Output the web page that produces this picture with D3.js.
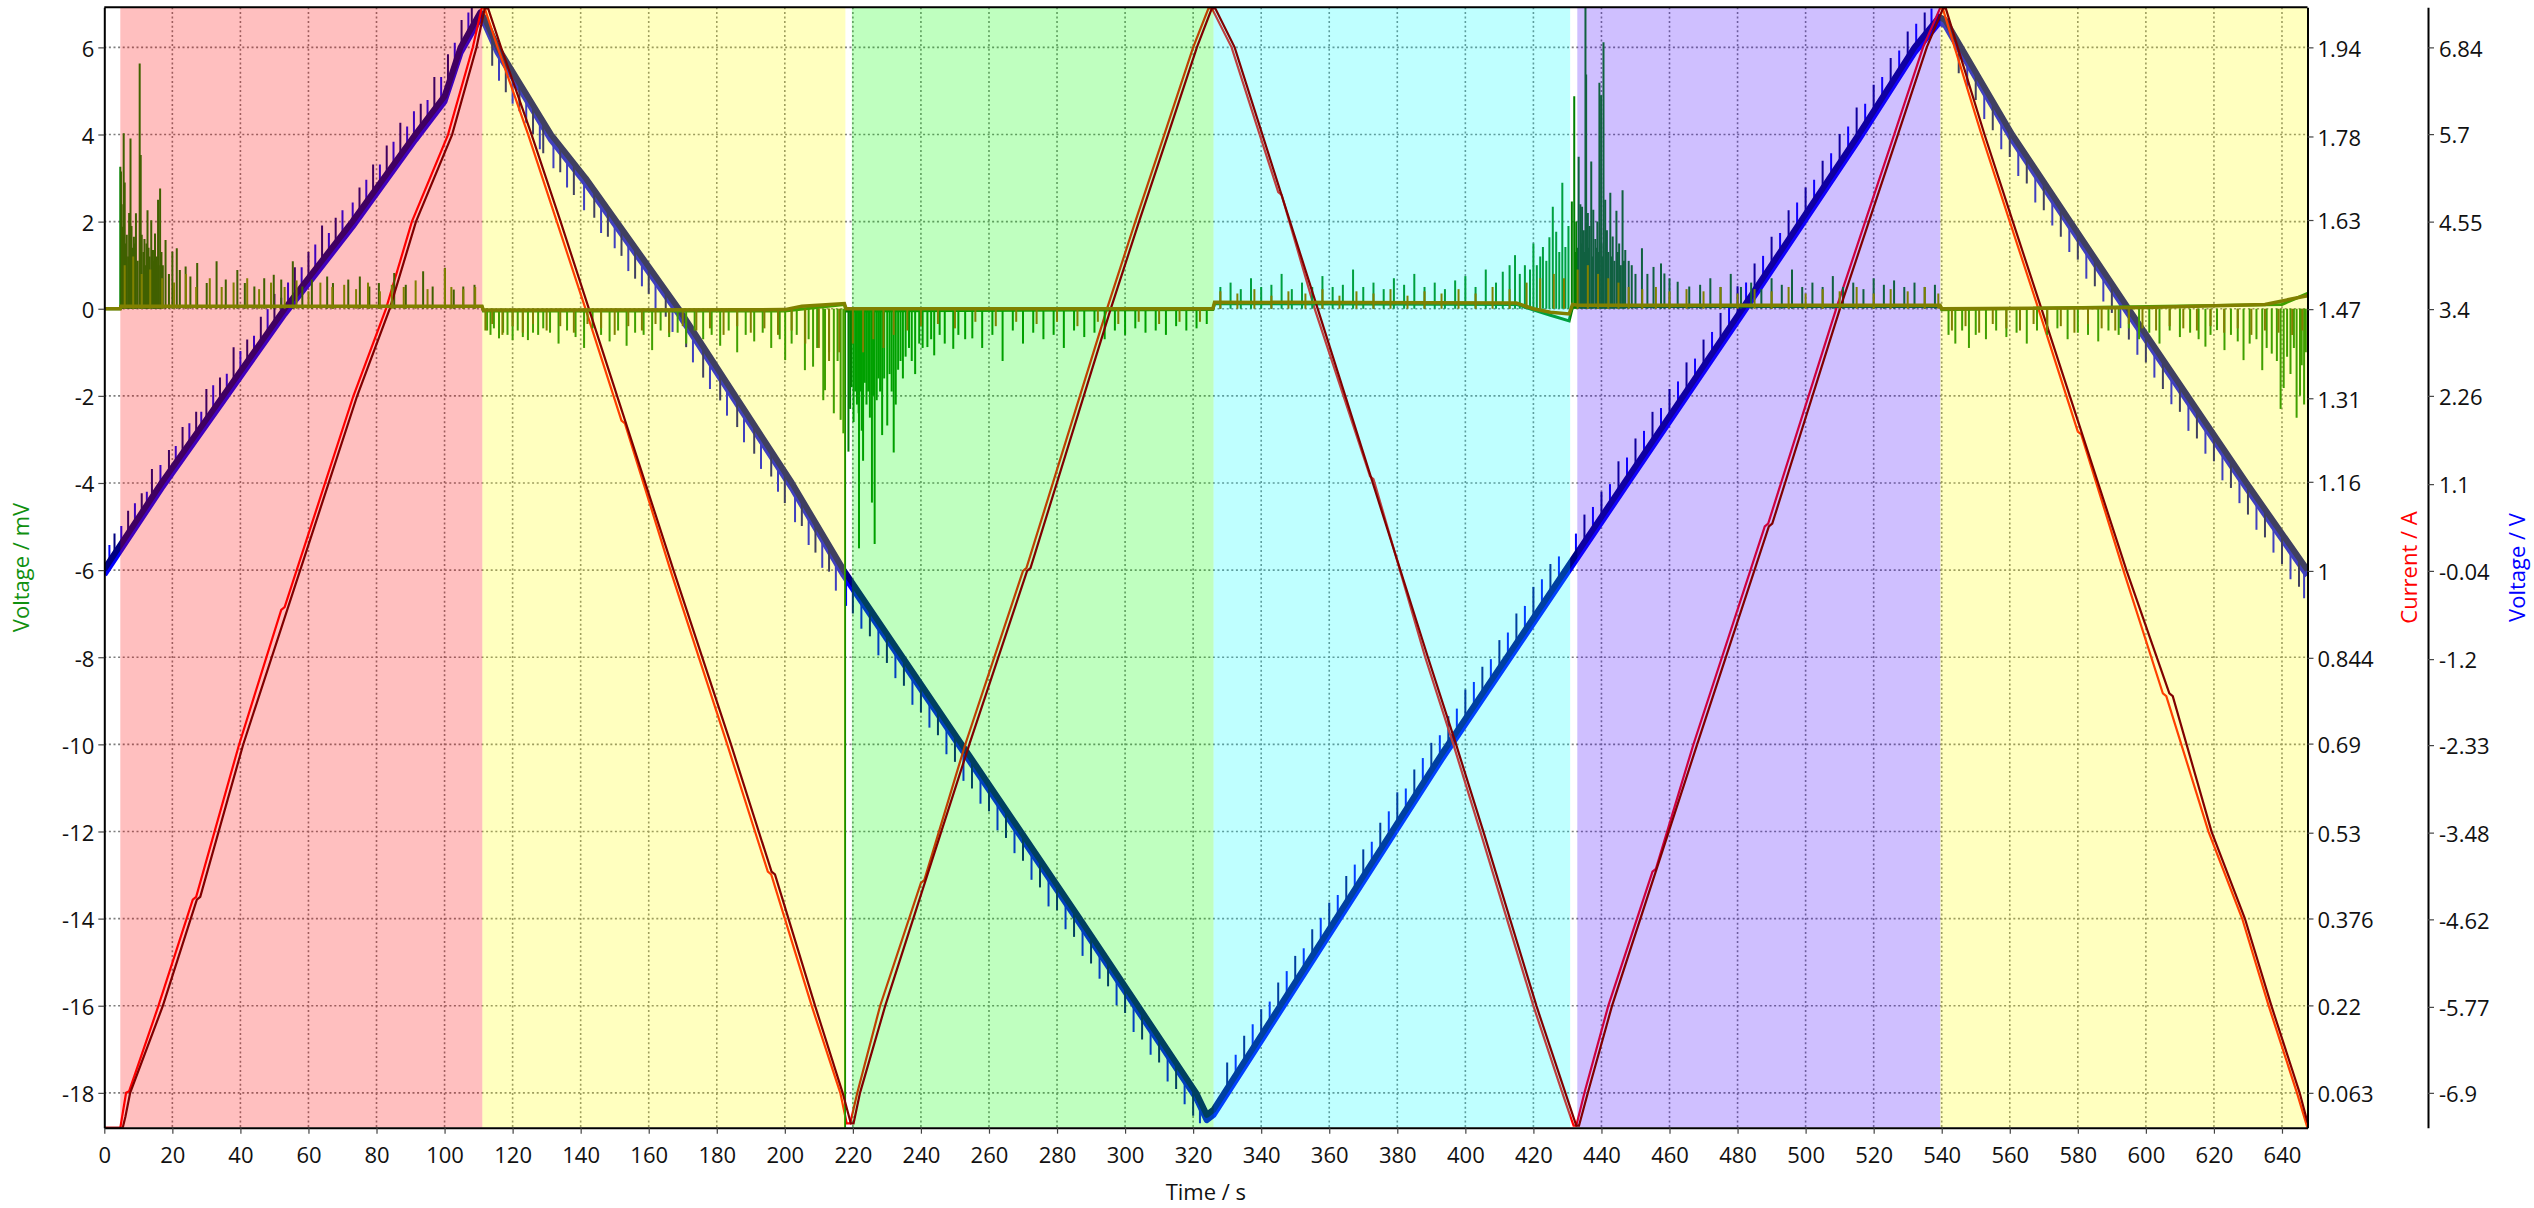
<!DOCTYPE html>
<html><head><meta charset="utf-8">
<script src="https://cdn.jsdelivr.net/npm/d3@7"></script>
<style>html,body{margin:0;padding:0;background:#fff;} text{font-family:"Open Sans","Noto Sans",sans-serif;}</style>
</head><body><svg id="chart" width="2534" height="1208"></svg>
<script>
// ---------- tick labels ----------
const timeTicks = [0,20,40,60,80,100,120,140,160,180,200,220,240,260,280,300,320,340,360,380,400,420,440,460,480,500,520,540,560,580,600,620,640];
const mvTicks = [6,4,2,0,-2,-4,-6,-8,-10,-12,-14,-16,-18];
const currentTicks = [1.94,1.78,1.63,1.47,1.31,1.16,1,0.844,0.69,0.53,0.376,0.22,0.063];
const voltTicks = [6.84,5.7,4.55,3.4,2.26,1.1,-0.04,-1.2,-2.33,-3.48,-4.62,-5.77,-6.9];

// ---------- phase bands ----------
const bandStarts = [4.7, 111.1, 219.7, 326.0, 432.9, 539.6];
const bandEnds   = [111.1, 217.8, 326.0, 430.8, 539.6, 647.5];
const bandColors = ["#ff0000","#ffff00","#00ff00","#00ffff","#4000ff","#ffff00"];

// ---------- Current / A (two channels) ----------
const currentRed = [[0,0],[4.7,0],[6.4,0.063],[7.3,0.066],[15.9,0.219],[26,0.41],[27,0.415],[39.6,0.688],[52,0.93],[53,0.935],[73.2,1.314],[82.8,1.471],[90.4,1.627],[101,1.783],[108.3,1.94],[110.9,2.01],
 [111.8,2.01],[115.6,1.94],[124.6,1.783],[133,1.627],[141.4,1.471],[152,1.27],[153,1.265],[166.4,1.001],[183.1,0.688],[195,0.46],[196,0.455],[207.9,0.219],[216.3,0.063],[218.2,0.008],
 [219.2,0.008],[221.3,0.063],[228,0.219],[240,0.44],[241,0.445],[253,0.688],[270,1.0],[271,1.005],[294.7,1.471],[303,1.627],[311.5,1.783],[320,1.94],[324.5,2.01],
 [325.5,2.01],[331.3,1.94],[345,1.68],[346,1.675],[355.7,1.471],[372,1.17],[373,1.165],[388.2,0.845],[396.5,0.688],[404.4,0.532],[420,0.219],[428.5,0.063],[431.8,0.004],
 [432.6,0.004],[435,0.063],[442,0.219],[455,0.46],[456,0.465],[467,0.688],[488,1.08],[489,1.085],[509,1.471],[517.5,1.627],[526,1.783],[534.5,1.94],[539.5,2.01],
 [540.3,2.01],[543.8,1.94],[551.7,1.783],[560,1.627],[568.4,1.471],[580,1.25],[581,1.245],[593.4,1.001],[605,0.78],[606,0.775],[618.4,0.532],[628.3,0.376],[636.1,0.219],[644.4,0.063],[647.5,0.0]];
const currentDark = [[0,0],[5.4,0],[6.2,0.02],[7.6,0.063],[17.2,0.219],[27.2,0.41],[28.2,0.415],[40.8,0.688],[74.3,1.314],[83.9,1.471],[91.6,1.627],[102.2,1.783],[109.4,1.94],[111.8,2.01],
 [112.8,2.01],[116.6,1.94],[125.6,1.783],[134.1,1.627],[142.4,1.471],[167.3,1.001],[184.2,0.688],[196.1,0.46],[197.1,0.455],[208.9,0.219],[217,0.063],[219.4,0.008],
 [220.2,0.008],[222.1,0.063],[229.5,0.219],[254.2,0.688],[271.2,1.0],[272.2,1.005],[295.8,1.471],[304.1,1.627],[312.6,1.783],[321.1,1.94],[325.5,2.01],
 [326.5,2.01],[332.2,1.94],[356.6,1.471],[389,0.845],[397.3,0.688],[405.3,0.532],[420.9,0.219],[429.4,0.063],[432.6,0.004],
 [433.4,0.004],[436,0.063],[443.1,0.219],[468.1,0.688],[489.2,1.08],[490.2,1.085],[510.1,1.471],[518.6,1.627],[527.1,1.783],[535.6,1.94],[540.4,2.01],
 [541.2,2.01],[544.7,1.94],[552.6,1.783],[560.9,1.627],[569.3,1.471],[594.3,1.001],[606.9,0.78],[607.9,0.775],[619.3,0.532],[629.1,0.376],[636.9,0.219],[645.2,0.063],[647.5,0.01]];

// ---------- Voltage / V (two channels) ----------
const voltNavy = [[0,-0.02],[16.8,1.115],[34.9,2.26],[53,3.405],[72.9,4.55],[91.4,5.695],[100,6.2],[104.7,6.84],[110.5,7.3],
 [112,7.2],[115.6,6.84],[131.3,5.695],[141.5,5.12],[168.8,3.405],[202.1,1.115],[217.3,-0.03],[252,-2.32],[286.7,-4.61],[320.9,-6.9],[324,-7.19],
 [326,-7.12],[393,-2.45],[430.5,0.04],[446.7,1.115],[481.4,3.405],[515.6,5.695],[532,6.84],[539.3,7.24],
 [541,7.2],[560.7,5.695],[577.8,4.55],[594.9,3.405],[629.6,1.115],[647.5,-0.03]];
const voltBlue = [[0,-0.09],[16.8,1.045],[34.9,2.19],[53,3.335],[72.9,4.48],[91.4,5.625],[100,6.13],[104.7,6.77],[110.5,7.23],
 [112,7.13],[115.6,6.77],[131.3,5.625],[141.5,5.05],[168.8,3.335],[202.1,1.045],[217.3,-0.1],[252,-2.39],[286.7,-4.68],[320.9,-6.97],[324,-7.26],
 [326,-7.19],[393,-2.52],[430.5,-0.03],[446.7,1.045],[481.4,3.335],[515.6,5.625],[532,6.77],[539.3,7.17],
 [541,7.13],[560.7,5.625],[577.8,4.48],[594.9,3.335],[629.6,1.045],[647.5,-0.1]];
// noise excursions [t, from V, to V]
const voltNavySpikes = [[3,0.18,0.45],[7,0.45,0.75],[11,0.72,0.98],[14,0.93,1.3],[19,1.25,1.55],[23,1.51,1.85],[27,1.76,2.05],[30,1.95,2.35],[34,2.2,2.5],[38,2.46,2.9],[42,2.71,3.0],[46,2.96,3.3],[50,3.22,3.6],
 [56,3.58,3.95],[60,3.81,4.15],[64,4.04,4.5],[68,4.27,4.6],[75,4.68,5.0],[79,4.93,5.3],[83,5.18,5.55],[87,5.42,5.85],[93,5.79,6.1],[97,6.02,6.45],[101,6.34,6.75],[105,6.86,7.2],[108,7.1,7.37],
 [114,6.99,6.6],[118,6.66,6.25],[122,6.37,6.0],[126,6.08,5.7],[129,5.86,5.45],[134,5.55,5.2],[138,5.32,4.9],[144,4.96,4.6],[148,4.71,4.35],[152,4.46,4.1],[156,4.21,3.8],[160,3.96,3.6],
 [165,3.64,3.3],[171,3.25,2.9],[176,2.91,2.5],[181,2.56,2.2],[186,2.22,1.85],[191,1.88,1.5],[196,1.54,1.2],[200,1.26,0.85],[205,0.91,0.55],[209,0.6,0.2],[213,0.3,-0.05],
 [220,-0.21,-0.6],[225,-0.54,-0.9],[230,-0.87,-1.25],[235,-1.2,-1.55],[240,-1.53,-1.9],[245,-1.86,-2.2],[250,-2.19,-2.55],[255,-2.52,-2.9],[260,-2.85,-3.2],[265,-3.18,-3.55],
 [270,-3.51,-3.85],[275,-3.84,-4.2],[280,-4.17,-4.5],[285,-4.5,-4.85],[290,-4.83,-5.2],[295,-5.16,-5.5],[300,-5.49,-5.85],[305,-5.83,-6.2],[310,-6.17,-6.5],[315,-6.5,-6.85],[320,-6.84,-7.2],
 [330,-6.84,-6.5],[335,-6.49,-6.15],[340,-6.14,-5.8],[345,-5.8,-5.45],[350,-5.45,-5.1],[355,-5.1,-4.75],[360,-4.75,-4.4],[365,-4.4,-4.05],[370,-4.05,-3.7],[375,-3.7,-3.35],
 [380,-3.36,-2.95],[385,-3.01,-2.65],[390,-2.66,-2.3],[395,-2.32,-1.95],[400,-1.99,-1.6],[405,-1.65,-1.3],[410,-1.32,-0.95],[415,-0.99,-0.6],[420,-0.66,-0.25],[425,-0.33,0.05],
 [435,0.32,0.7],[440,0.67,1.0],[445,1.0,1.4],[450,1.33,1.7],[455,1.66,2.05],[460,1.99,2.35],[465,2.32,2.7],[470,2.65,3.0],[475,2.98,3.35],[480,3.31,3.7],[485,3.64,4.0],
 [490,3.98,4.35],[495,4.31,4.7],[500,4.65,5.0],[505,4.98,5.35],[510,5.32,5.7],[515,5.65,6.05],[520,5.98,6.35],[525,6.35,6.7],[530,6.7,7.05],[535,7.0,7.3],
 [545,6.89,6.5],[550,6.51,6.15],[555,6.13,5.75],[560,5.75,5.4],[565,5.41,5.05],[570,5.07,4.7],[575,4.74,4.35],[580,4.4,4.05],[585,4.07,3.7],[590,3.73,3.35],
 [595,3.4,3.0],[600,3.07,2.7],[605,2.74,2.35],[610,2.41,2.05],[615,2.08,1.7],[620,1.75,1.4],[625,1.42,1.05],[630,1.09,0.7],[635,0.77,0.4],[640,0.45,0.05],[645,0.13,-0.25]];
const voltBlueSpikes = [[1.5,0.01,0.3],[5,0.25,0.55],[9,0.52,0.85],[12.5,0.75,1.0],[16.5,1.02,1.35],[21,1.31,1.6],[25,1.56,1.9],[28.5,1.79,2.05],[32,2.0,2.4],[36,2.26,2.55],[40,2.51,2.85],[44,2.77,3.05],
 [48,3.02,3.4],[52,3.27,3.55],[54,3.39,3.75],[58,3.62,3.95],[62,3.85,4.25],[66,4.08,4.4],[70,4.31,4.7],[73,4.49,4.8],[77,4.73,5.1],[81,4.98,5.3],[85,5.23,5.6],[89,5.48,5.8],[91,5.6,6.0],
 [95,5.84,6.15],[99,6.07,6.45],[103,6.54,6.9],[107,6.95,7.3],
 [116,6.74,6.4],[120,6.45,6.1],[124,6.16,5.85],[128,5.87,5.5],[132,5.58,5.25],[136,5.36,5.0],[141,5.08,4.7],[146,4.77,4.4],[150,4.52,4.2],[154,4.27,3.9],[158,4.01,3.7],[162,3.76,3.4],
 [167,3.45,3.1],[173,3.05,2.7],[178,2.7,2.35],[183,2.36,2.0],[188,2.01,1.65],[193,1.67,1.3],[198,1.33,1.0],[203,0.98,0.6],[207,0.68,0.3],[211,0.38,0.0],[215,0.07,-0.3],[218,-0.15,-0.5],
 [222.5,-0.44,-0.8],[227.5,-0.77,-1.15],[232.5,-1.1,-1.45],[237.5,-1.43,-1.8],[242.5,-1.76,-2.1],[247.5,-2.09,-2.45],[252.5,-2.42,-2.8],[257.5,-2.75,-3.1],[262.5,-3.08,-3.45],[267.5,-3.41,-3.75],
 [272.5,-3.74,-4.1],[277.5,-4.07,-4.45],[282.5,-4.4,-4.75],[287.5,-4.73,-5.1],[292.5,-5.06,-5.4],[297.5,-5.39,-5.75],[302.5,-5.72,-6.1],[307.5,-6.05,-6.4],[312.5,-6.38,-6.75],[317.5,-6.71,-7.05],[322,-7.04,-7.3],
 [332.5,-6.74,-6.4],[337.5,-6.39,-6.0],[342.5,-6.04,-5.7],[347.5,-5.69,-5.3],[352.5,-5.34,-5.0],[357.5,-4.99,-4.6],[362.5,-4.64,-4.3],[367.5,-4.29,-3.9],[372.5,-3.94,-3.6],[377.5,-3.59,-3.2],
 [382.5,-3.24,-2.9],[387.5,-2.9,-2.5],[392.5,-2.55,-2.2],[397.5,-2.22,-1.85],[402.5,-1.89,-1.5],[407.5,-1.56,-1.2],[412.5,-1.23,-0.85],[417.5,-0.9,-0.5],[422.5,-0.53,-0.15],[427.5,-0.2,0.15],
 [432.5,0.1,0.45],[437.5,0.43,0.8],[442.5,0.76,1.1],[447.5,1.1,1.45],[452.5,1.43,1.8],[457.5,1.76,2.1],[462.5,2.09,2.45],[467.5,2.42,2.75],[472.5,2.75,3.1],[477.5,3.08,3.45],[482.5,3.41,3.75],
 [487.5,3.74,4.1],[492.5,4.08,4.4],[497.5,4.41,4.8],[502.5,4.74,5.1],[507.5,5.08,5.45],[512.5,5.42,5.8],[517.5,5.76,6.1],[522.5,6.11,6.45],[527.5,6.46,6.8],[532.5,6.8,7.15],[537,7.05,7.35],
 [547.5,6.63,6.3],[552.5,6.25,5.9],[557.5,5.87,5.5],[562.5,5.5,5.15],[567.5,5.17,4.8],[572.5,4.83,4.5],[577.5,4.5,4.15],[582.5,4.17,3.8],[587.5,3.83,3.5],[592.5,3.5,3.15],[597.5,3.16,2.8],
 [602.5,2.83,2.5],[607.5,2.5,2.15],[612.5,2.17,1.8],[617.5,1.84,1.5],[622.5,1.51,1.15],[627.5,1.18,0.85],[632.5,0.86,0.5],[637.5,0.54,0.2],[642.5,0.22,-0.15],[646.5,-0.04,-0.4]];

// ---------- Voltage / mV (two channels) ----------
const mvGreenBase = [[0,0],[4.6,0],[4.8,0.05],[111,0.05],[111.4,-0.05],[200,-0.05],[217.5,0.1],[218,-0.05],[325.8,-0.02],[326.3,0.12],[415,0.1],[425,-0.15],[430.5,-0.28],[431.5,0.05],[539.5,0.05],[540,-0.02],[640,0.1],[647.5,0.35]];
const mvOliveBase = [[0,0],[4.7,0],[4.9,0.06],[111,0.06],[111.4,-0.03],[200,-0.02],[205,0.06],[217.5,0.12],[218,0],[325.8,0],[326.3,0.15],[415,0.13],[420,0.0],[425,-0.08],[430.5,-0.12],[431.5,0.1],[433,0.08],[539.5,0.08],[540,0],[600,0.03],[635,0.1],[647.5,0.3]];
const mvGreenSpikes = [[4.7,3.26],[4.9,3.15],[5.1,2.4],[5.3,1.88],[5.7,4.03],[6.0,2.9],[6.3,1.5],[6.6,1.7],[7.0,1.2],[7.3,2.2],[7.7,3.91],[8.0,1.9],[8.2,1.4],[8.7,1.65],[9.0,1.5],[9.3,2.19],[9.8,1.1],[10.4,5.63],[10.7,3.53],
 [11.0,1.7],[11.5,1.3],[11.8,1.6],[12.1,1.0],[12.4,1.5],[12.7,2.26],[13.0,1.4],[13.3,1.2],[13.8,2.03],[14.3,1.35],[14.6,1.1],[14.9,1.73],[15.4,1.2],[15.8,2.5],[16.0,1.0],[16.4,2.76],[16.8,1.3],[17.2,1.0],[18.0,1.58],
 [19,0.8],[20,1.31],[21.3,1.39],[22.2,0.89],[23.9,0.97],[25.3,0.74],[27.3,1.05],[30.1,0.59],[33,1.09],[35.7,0.67],[39.1,0.89],[41.3,0.59],[44.1,0.51],[47,0.7],[49.8,0.78],[52,0.67],[55.4,1.09],[58.2,0.51],
 [61,0.67],[65.5,0.74],[67.2,0.59],[71.7,0.67],[75.1,0.74],[77.9,0.51],[80.7,0.59],[85.2,0.82],[88.6,0.55],[93.7,0.86],[96.5,0.51],[100.1,0.94],[102.7,0.44],[105.5,0.51],[108.8,0.55],
 [112.5,-0.5],[113.5,-0.6],[114.5,-0.45],[116,-0.68],[117.2,-0.55],[118.5,-0.6],[120,-0.72],[121.5,-0.5],[123,-0.65],[124.5,-0.72],[126,-0.55],[127.5,-0.6],[129,-0.45],
 [131,-0.55],[133.5,-0.8],[136,-0.5],[138.5,-0.65],[141,-0.9],[143.5,-0.45],[146,-0.6],[148.5,-0.75],[151,-0.5],[153.5,-0.85],[156,-0.55],[158.5,-0.6],[161,-0.95],[163.5,-0.5],[166,-0.65],
 [168.5,-0.55],[171,-0.8],[173.5,-0.5],[176,-0.7],[178.5,-0.6],[181,-0.85],[183.5,-0.5],[186,-1.0],[188.5,-0.6],[191,-0.75],[193.5,-0.55],[196,-0.9],[198.5,-0.7],
 [200.1,-1.18],[202,-0.8],[203.5,-0.6],[205.9,-1.41],[207,-0.7],[208.3,-1.33],[209.5,-0.9],[211.3,-2.1],[211.8,-1.87],[213,-1.0],[214.4,-2.4],[215.5,-1.2],[216.4,-2.55],[217.2,-2.86],[217.7,-18.8],
 [218.7,-3.28],[219.2,-2.3],[219.6,-1.8],[220.2,-2.6],[220.7,-1.9],[221.2,-2.2],[221.7,-2.4],[221.8,-5.5],[222.3,-1.9],[222.6,-2.8],[223,-3.49],[223.5,-1.7],[224,-2.2],[224.5,-1.9],[225,-2.5],
 [225.6,-4.45],[226,-2.0],[226.4,-5.4],[227,-2.1],[227.5,-1.6],[228,-1.9],[228.6,-2.9],[229.2,-1.6],[230.1,-2.68],[230.8,-1.5],[231.4,-1.9],[232,-3.3],[232.6,-2.2],[233.3,-1.4],[234,-1.2],
 [234.7,-1.6],[235.5,-1.1],[236.5,-0.9],[237.3,-1.2],[238.3,-1.5],[239.5,-0.8],[240.5,-0.9],[241.9,-0.88],[243,-0.7],[243.9,-1.07],[245.5,-0.6],[247,-0.8],[249.5,-0.92],[251,-0.6],[253,-0.7],
 [255.1,-0.68],[258,-0.9],[261,-0.6],[264,-1.2],[267,-0.5],[270,-0.8],[273,-0.55],[276,-0.7],[279,-0.6],[282,-0.9],[285,-0.5],[288,-0.65],[291,-0.55],[294,-0.7],[297,-0.5],[300,-0.6],
 [303,-0.45],[306,-0.55],[309,-0.5],[312,-0.6],[315,-0.4],[318,-0.5],[321,-0.45],[324,-0.35],
 [328,0.5],[331,0.6],[334,0.45],[337,0.7],[340,0.5],[343,0.55],[346,0.8],[349,0.45],[352,0.6],[355,0.5],[358,0.75],[361,0.5],[364,0.55],[367,0.9],[370,0.5],[373,0.6],[376,0.45],[379,0.7],
 [382,0.55],[385,0.8],[388,0.5],[391,0.6],[394,0.45],[397,0.65],[400,0.75],[403,0.5],[406,0.9],[409,0.6],[411,0.85],[413,1.0],[414.6,1.23],[416,0.8],[417.5,1.0],[419,0.9],[420,1.5],[421,1.0],
 [422,1.2],[422.8,1.42],[423.8,1.1],[424.7,1.64],[425.7,2.34],[426.7,1.77],[427.6,1.3],[428.5,2.89],[429.4,1.42],[430.3,1.9],
 [431.3,2.46],[432,4.88],[432.3,1.3],[432.6,2.0],[433,1.4],[433.3,3.49],[433.8,2.4],[434,1.5],[434.3,2.34],[434.8,1.8],[435,1.3],[435.3,6.92],[435.5,5.38],[436,2.2],[436.2,1.4],[436.5,1.9],
 [437,3.38],[437.3,1.2],[437.6,2.27],[438.2,1.6],[438.5,1.4],[438.8,2.0],[439,1.3],[439.4,5.19],[439.9,4.9],[440,1.5],[440.3,1.2],[440.6,6.12],[441.1,2.5],[441.3,1.4],[441.6,1.8],[442,1.3],
 [442.6,2.66],[443,1.2],[443.3,1.66],[443.8,1.1],[444.4,2.25],[444.8,1.3],[445.2,1.5],[445.7,1.0],[446.2,2.72],[446.6,1.1],[447,1.35],[448,1.1],[448.9,1.0],[450,0.8],[451.9,1.39],[453.5,0.8],
 [455.3,0.96],[457.5,1.04],[458.5,0.81],[460,0.7],[462.4,0.62],[465.8,0.51],
 [469,0.55],[472,0.7],[475,0.5],[478,0.8],[481,0.5],[484,0.6],[487,0.45],[490,0.7],[493,0.55],[496,0.9],[499,0.5],[502,0.6],[505,0.5],[508,0.75],[511,0.5],[514,0.6],[517,0.45],[520,0.7],
 [523,0.55],[526,0.65],[529,0.5],[532,0.6],[535,0.5],[538,0.55],
 [542,-0.6],[544,-0.8],[546,-0.5],[548,-0.9],[550,-0.6],[553,-0.7],[556,-0.5],[559,-0.65],[562,-0.55],[565,-0.8],[568,-0.5],[571,-0.6],[574,-0.45],[577,-0.7],[580,-0.55],[583,-0.6],[586,-0.75],
 [589,-0.5],[592,-0.6],[595,-0.45],[598,-0.7],[601,-0.55],[604,-0.8],[607,-0.5],[610,-0.65],[613,-0.55],[615.5,-0.7],[617.5,-0.87],[619,-0.6],[620.9,-0.49],[623.1,-0.95],[625,-0.6],[627,-0.75],
 [628.7,-1.18],[630.5,-0.8],[632.5,-0.7],[634.2,-1.41],[635.5,-0.9],[637,-1.03],[638.5,-1.2],[639.6,-2.3],[640.5,-1.82],[641.5,-1.1],[642.5,-1.5],[643.5,-0.9],[644.3,-2.5],[645.3,-2.0],[645.8,-1.3],[646.5,-2.2],[647,-1.0]];
const mvOliveSpikes = [[6,1.0],[8.5,1.2],[11,0.8],[13.5,0.9],[17,0.7],[20.5,0.6],[24,0.8],[27,0.5],[31,0.7],[34.5,0.5],[38,0.6],[42,0.7],[45.5,0.45],[49,0.6],[53,0.5],[56.5,0.65],[60,0.4],[63.5,0.6],
 [67,0.5],[70.5,0.55],[74,0.45],[77.5,0.6],[81,0.4],[84.5,0.55],[88,0.5],[91.5,0.65],[95,0.45],[100.1,0.93],[102,0.5],[105.5,0.45],[109,0.5],
 [112,-0.5],[114,-0.35],[117,-0.6],[120,-0.4],[123,-0.55],[126,-0.35],[130,-0.5],[134,-0.4],[138,-0.55],[142,-0.35],[146,-0.45],[150,-0.6],[154,-0.4],[158,-0.5],[162,-0.35],[166,-0.55],
 [170,-0.4],[174,-0.5],[178,-0.45],[182,-0.6],[186,-0.4],[190,-0.55],[194,-0.45],[198,-0.6],[202,-0.5],[206,-0.8],[210,-0.9],[213,-1.2],[216,-1.0],
 [220,-0.8],[223,-1.0],[226,-0.7],[229,-0.9],[232,-0.6],[236,-0.5],[240,-0.4],[245,-0.35],[250,-0.45],[256,-0.3],[262,-0.4],[268,-0.3],[274,-0.35],[280,-0.3],[286,-0.4],[292,-0.3],[298,-0.35],
 [304,-0.3],[310,-0.35],[316,-0.3],[322,-0.3],
 [328,0.4],[333,0.35],[338,0.45],[343,0.3],[348,0.4],[353,0.35],[358,0.45],[363,0.3],[368,0.4],[373,0.35],[378,0.45],[383,0.3],[388,0.4],[393,0.35],[398,0.45],[403,0.35],[408,0.5],[413,0.45],
 [418,0.6],[422,0.7],[426,0.8],[429,0.7],
 [433,0.9],[436,1.0],[439,0.8],[442,0.7],[445,0.6],[448,0.5],[452,0.45],[456,0.5],[460,0.4],[465,0.45],[470,0.4],[475,0.5],[480,0.35],[485,0.45],[490,0.4],[495,0.5],[500,0.35],[505,0.45],
 [510,0.4],[515,0.5],[520,0.35],[525,0.45],[530,0.4],[535,0.5],[539,0.35],
 [543,-0.5],[547,-0.4],[551,-0.55],[555,-0.35],[559,-0.45],[563,-0.5],[567,-0.35],[571,-0.5],[575,-0.4],[579,-0.55],[583,-0.35],[587,-0.45],[591,-0.5],[595,-0.35],[599,-0.45],[603,-0.5],
 [607,-0.4],[611,-0.45],[615,-0.5],[619,-0.4],[623,-0.55],[627,-0.45],[631,-0.6],[635,-0.5],[639,-0.55],[643,-0.6],[646,-0.5]];

// ---------- layout ----------
const L = 104.3, R = 2307.5, T = 7.3, B = 1127.7, R2 = 2428;
const svg = d3.select("#chart");
svg.append("rect").attr("width",2534).attr("height",1208).attr("fill","#fff");

const x = d3.scaleLinear().domain([0,647.5]).range([L,R]);
const yMV = d3.scaleLinear().domain([-18.8,6.92]).range([B,T]);
const yA = d3.scaleLinear().domain([0.0004,2.0119]).range([B,T]);
const yV = d3.scaleLinear().domain([-7.358,7.3667]).range([B,T]);

svg.append("defs").append("clipPath").attr("id","plotclip")
  .append("rect").attr("x",L).attr("y",T).attr("width",R-L).attr("height",B-T);
const plot = svg.append("g").attr("clip-path","url(#plotclip)");

// grid
const grid = plot.append("g").attr("stroke","#7d7d7d").attr("stroke-width",1.6).attr("stroke-dasharray","2,2.6");
grid.selectAll("line.v").data(timeTicks.filter(d=>d>0)).join("line").attr("class","v")
  .attr("x1",d=>x(d)).attr("x2",d=>x(d)).attr("y1",T).attr("y2",B);
grid.selectAll("line.h").data(mvTicks).join("line").attr("class","h")
  .attr("x1",L).attr("x2",R).attr("y1",d=>yMV(d)).attr("y2",d=>yMV(d));

const lineA = d3.line().x(d=>x(d[0])).y(d=>yA(d[1]));
const lineV = d3.line().x(d=>x(d[0])).y(d=>yV(d[1]));
const lineMV = d3.line().x(d=>x(d[0])).y(d=>yMV(d[1]));
function spikes(g, data, yS, color, w){
  g.append("g").selectAll("line").data(data).join("line")
    .attr("x1",d=>x(d[0])).attr("x2",d=>x(d[0])).attr("y1",d=>yS(d[1])).attr("y2",d=>yS(d[2]))
    .attr("stroke",color).attr("stroke-width",w);
}
function stems(g, data, yS, color, w){
  g.append("g").selectAll("line").data(data).join("line")
    .attr("x1",d=>x(d[0])).attr("x2",d=>x(d[0])).attr("y1",yS(0)).attr("y2",d=>yS(d[1]))
    .attr("stroke",color).attr("stroke-width",w);
}

// lower layer (tinted by the phase bands)
plot.append("path").datum(voltBlue).attr("d",lineV).attr("fill","none").attr("stroke","#0000ff").attr("stroke-width",6).attr("stroke-linejoin","round");
spikes(plot, voltBlueSpikes, yV, "#0000ff", 2);
plot.append("path").datum(voltNavy).attr("d",lineV).attr("fill","none").attr("stroke","#000080").attr("stroke-width",6).attr("stroke-linejoin","round");
spikes(plot, voltNavySpikes, yV, "#000080", 2);
plot.append("path").datum(currentRed).attr("d",lineA).attr("fill","none").attr("stroke","#ff0000").attr("stroke-width",2.2);
plot.append("path").datum(mvGreenBase).attr("d",lineMV).attr("fill","none").attr("stroke","#008000").attr("stroke-width",3);
stems(plot, mvGreenSpikes, yMV, "#008000", 2);

// phase bands
plot.append("g").selectAll("rect").data(bandStarts.map((s,i)=>[s,bandEnds[i],bandColors[i]])).join("rect")
  .attr("x",d=>x(d[0])).attr("width",d=>x(d[1])-x(d[0])).attr("y",T).attr("height",B-T)
  .attr("fill",d=>d[2]).attr("fill-opacity",0.25);

// upper layer
plot.append("path").datum(currentDark).attr("d",lineA).attr("fill","none").attr("stroke","#800000").attr("stroke-width",2.2);
plot.append("path").datum(mvOliveBase).attr("d",lineMV).attr("fill","none").attr("stroke","#808000").attr("stroke-width",3.5);
stems(plot, mvOliveSpikes, yMV, "#808000", 2);

// axes
const fmt = d => String(d);
const ff = "'Open Sans','Noto Sans',sans-serif";
function styleAxis(g){
  g.selectAll(".tick line").attr("stroke","#444").attr("stroke-width",1.2);
  g.selectAll(".tick text").attr("fill","#111").attr("font-size",22).attr("font-family",ff);
  g.select(".domain").attr("stroke","#000").attr("stroke-width",2);
}
const gx = svg.append("g").attr("transform",`translate(0,${B})`)
  .call(d3.axisBottom(x).tickValues(timeTicks).tickFormat(fmt).tickSize(6).tickSizeOuter(0).tickPadding(14));
styleAxis(gx);
const gl = svg.append("g").attr("transform",`translate(${L},0)`)
  .call(d3.axisLeft(yMV).tickValues(mvTicks).tickFormat(fmt).tickSize(6).tickSizeOuter(0).tickPadding(4));
styleAxis(gl); gl.selectAll(".tick text").attr("dy","0.4em");
const gr = svg.append("g").attr("transform",`translate(${R},0)`)
  .call(d3.axisRight(yA).tickValues(currentTicks).tickFormat(fmt).tickSize(6).tickSizeOuter(0).tickPadding(4));
styleAxis(gr); gr.selectAll(".tick text").attr("dy","0.4em");
const gr2 = svg.append("g").attr("transform",`translate(${R2},0)`)
  .call(d3.axisRight(yV).tickValues(voltTicks).tickFormat(fmt).tickSize(6).tickSizeOuter(0).tickPadding(5));
styleAxis(gr2); gr2.selectAll(".tick text").attr("dy","0.4em");
svg.append("line").attr("x1",L).attr("x2",R).attr("y1",T).attr("y2",T).attr("stroke","#000").attr("stroke-width",2);

// axis titles
const cy = (T+B)/2;
svg.append("text").attr("transform",`translate(20,${cy}) rotate(-90)`).attr("text-anchor","middle").attr("dominant-baseline","central")
  .attr("font-size",22).attr("font-family",ff).attr("fill","#109010").text("Voltage / mV");
svg.append("text").attr("transform",`translate(2408,${cy}) rotate(-90)`).attr("text-anchor","middle").attr("dominant-baseline","central")
  .attr("font-size",22).attr("font-family",ff).attr("fill","#ff0000").text("Current / A");
svg.append("text").attr("transform",`translate(2516,${cy}) rotate(-90)`).attr("text-anchor","middle").attr("dominant-baseline","central")
  .attr("font-size",22).attr("font-family",ff).attr("fill","#0000ff").text("Voltage / V");
svg.append("text").attr("x",(L+R)/2).attr("y",1191).attr("text-anchor","middle").attr("dominant-baseline","central")
  .attr("font-size",22).attr("font-family",ff).attr("fill","#111").text("Time / s");
</script></body></html>
